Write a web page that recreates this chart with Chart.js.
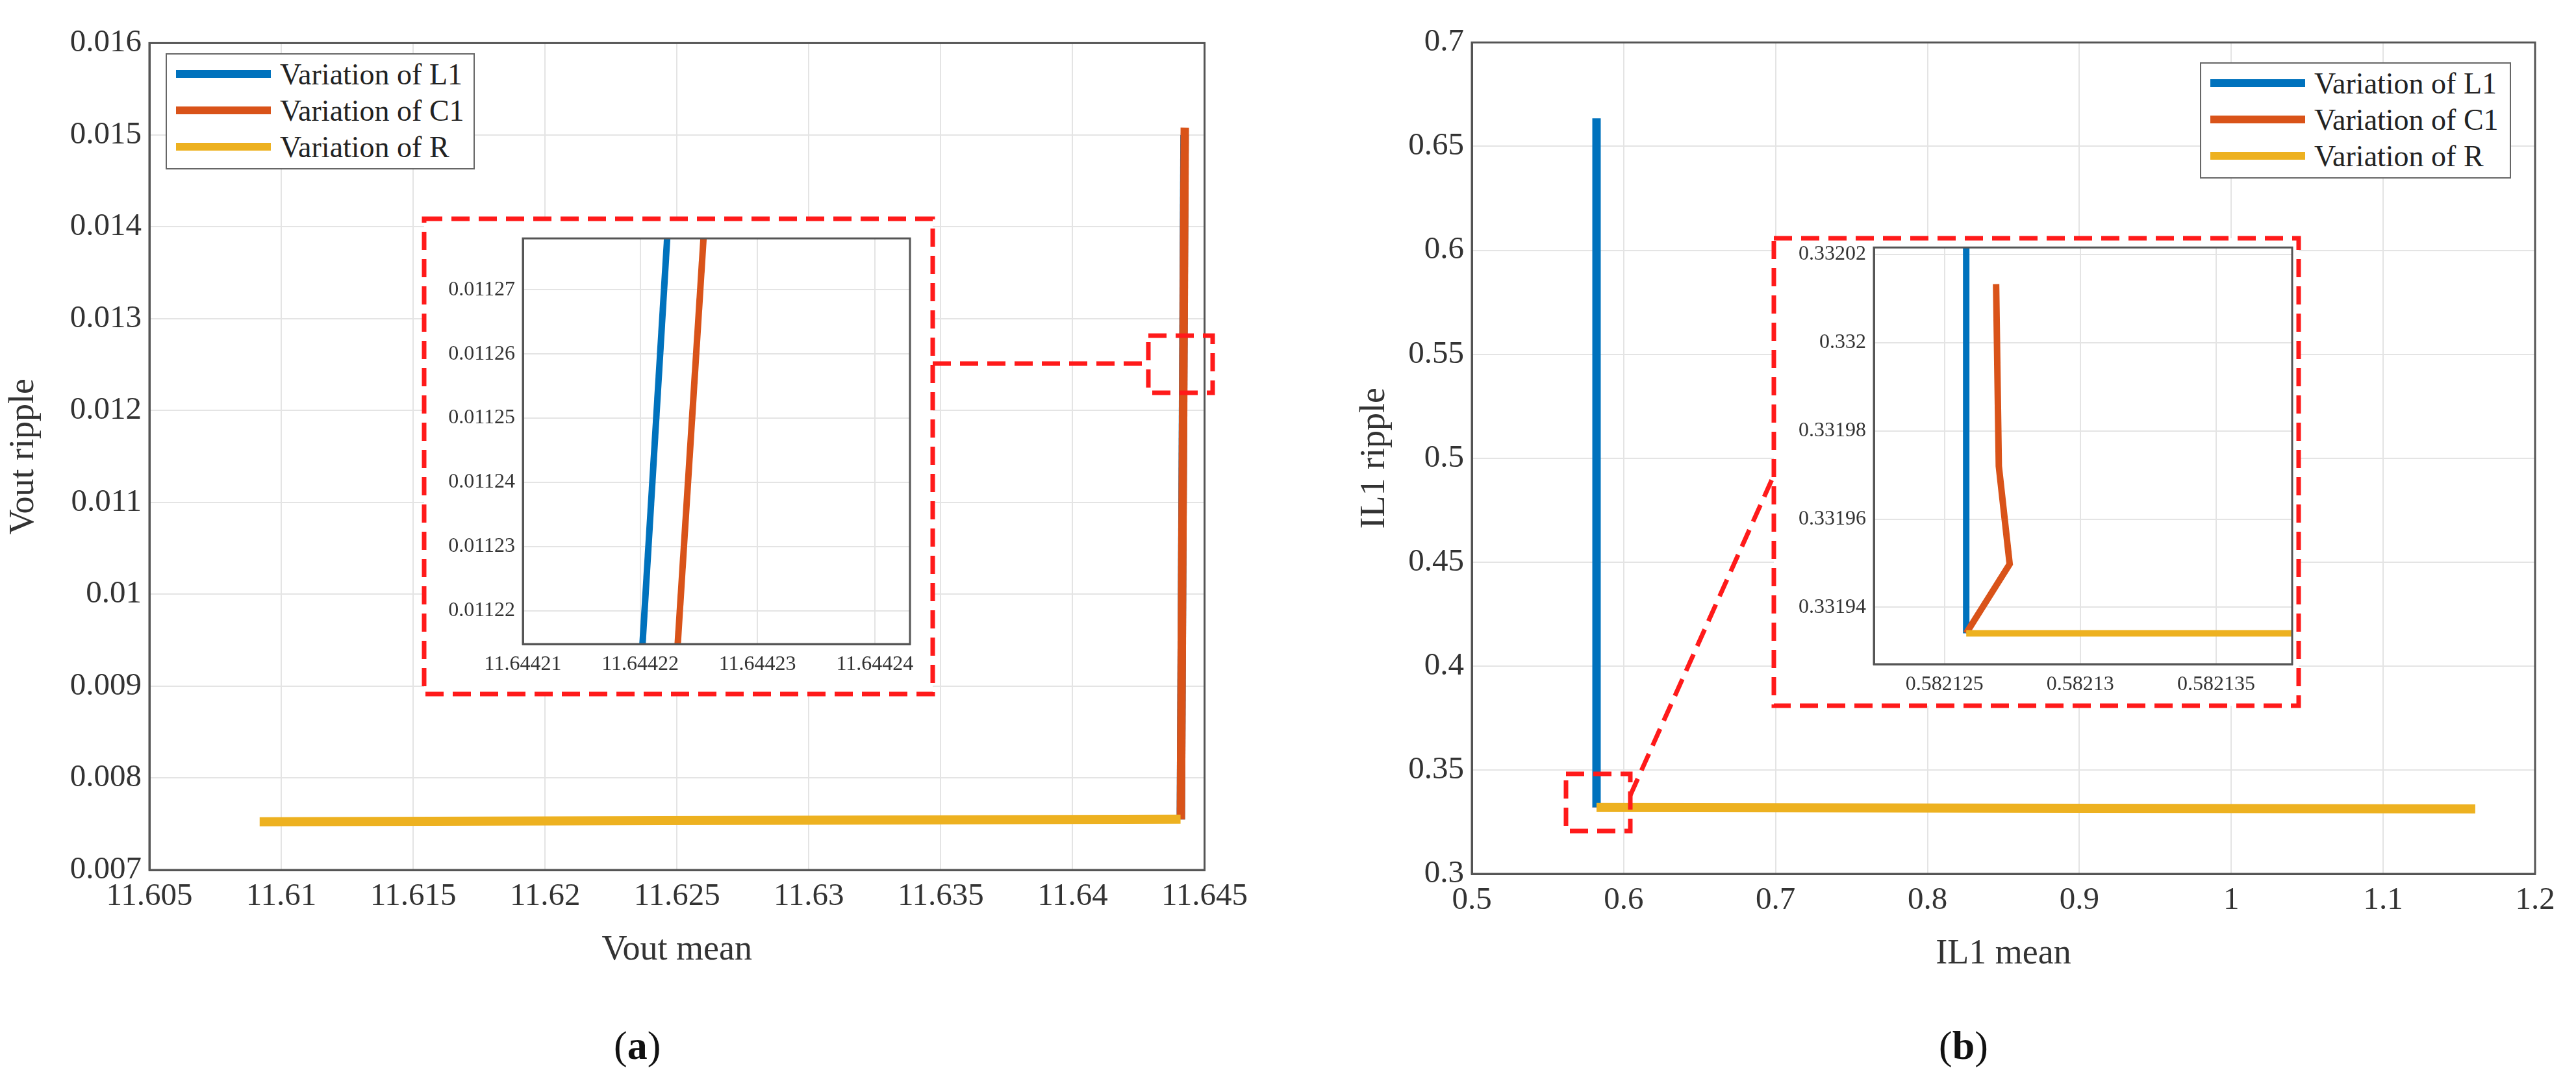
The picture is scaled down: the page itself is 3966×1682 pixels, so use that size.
<!DOCTYPE html>
<html>
<head>
<meta charset="utf-8">
<script src="https://cdn.jsdelivr.net/npm/chart.js@4"></script>
<style>
  body { margin: 0; background: #fff; width: 3966px; height: 1682px; position: relative; overflow: hidden; font-family: "Liberation Serif", serif; }
  .abs { position: absolute; }
  .legend { position: absolute; background: #fff; border: 2px solid #666; font-size: 46px; color: #222; }
  .legend div { height: 56px; display: flex; align-items: center; }
  .legend span.l { display: inline-block; width: 146px; height: 12px; margin: 0 14px 0 14px; }
  .cap { position: absolute; font-size: 62px; color: #111; }
</style>
</head>
<body>
<canvas id="mainA" class="abs" style="left:0;top:25px;width:1933px;height:1475px"></canvas>
<canvas id="mainB" class="abs" style="left:2080px;top:24px;width:1883px;height:1482px"></canvas>

<svg class="abs" style="left:0;top:0" width="3966" height="1682">
  <g fill="none" stroke="#ff1a1a" stroke-width="7" stroke-dasharray="28 14">
    <rect x="653" y="337" width="783" height="732" fill="#fff"/>
    <rect x="1768" y="517" width="99" height="88"/>
    <polyline points="1436,560 1768,560"/>
    <rect x="2731" y="367" width="808" height="720" fill="#fff"/>
    <rect x="2411" y="1192" width="99" height="88"/>
    <polyline points="2510,1225 2731,732"/>
  </g>
</svg>

<canvas id="insetA" class="abs" style="left:660px;top:336px;width:791px;height:716px"></canvas>
<canvas id="insetB" class="abs" style="left:2740px;top:350px;width:839px;height:733px"></canvas>

<div class="legend" style="left:255px;top:82px;width:472px;height:173px;padding-top:2px">
  <div><span class="l" style="background:#0072BD"></span>Variation of L1</div>
  <div><span class="l" style="background:#D95319"></span>Variation of C1</div>
  <div><span class="l" style="background:#EDB120"></span>Variation of R</div>
</div>
<div class="legend" style="left:3387px;top:96px;width:475px;height:173px;padding-top:2px">
  <div><span class="l" style="background:#0072BD"></span>Variation of L1</div>
  <div><span class="l" style="background:#D95319"></span>Variation of C1</div>
  <div><span class="l" style="background:#EDB120"></span>Variation of R</div>
</div>
<div class="cap" style="left:945px;top:1575px">(<b>a</b>)</div>
<div class="cap" style="left:2985px;top:1575px">(<b>b</b>)</div>

<script>
const blue = '#0072BD', orange = '#D95319', yellow = '#EDB120';

// (a) Vout: mean vs ripple
const aL1 = [[11.6441, 0.00755], [11.64424, 0.0150]];
const aC1 = [[11.6441, 0.00755], [11.64425, 0.01508]];
const aR = [[11.60918, 0.007525], [11.64409, 0.007553]];
const aXTicks = [11.605, 11.61, 11.615, 11.62, 11.625, 11.63, 11.635, 11.64, 11.645];
const aYTicks = [0.007, 0.008, 0.009, 0.01, 0.011, 0.012, 0.013, 0.014, 0.015, 0.016];

// (a) inset
const aiL1 = [[11.6442202, 0.0112148], [11.6442223, 0.011278]];
const aiC1 = [[11.6442232, 0.0112148], [11.6442254, 0.011278]];
const aiXTicks = [11.64421, 11.64422, 11.64423, 11.64424];
const aiYTicks = [0.01122, 0.01123, 0.01124, 0.01125, 0.01126, 0.01127];
const aiXRange = [11.64421, 11.644243];
const aiYRange = [0.0112148, 0.011278];

// (b) IL1: mean vs ripple
const bL1 = [[0.5821, 0.3319], [0.5821, 0.6635]];
const bC1 = [[0.5821, 0.3319], [0.5821, 0.33201]];
const bR = [[0.5821, 0.3319], [1.1606, 0.3312]];
const bXTicks = [0.5, 0.6, 0.7, 0.8, 0.9, 1, 1.1, 1.2];
const bYTicks = [0.3, 0.35, 0.4, 0.45, 0.5, 0.55, 0.6, 0.65, 0.7];

// (b) inset
const biL1 = [[0.5821258, 0.3319341], [0.5821258, 0.3320216]];
const biC1 = [[0.5821258, 0.3319341], [0.5821274, 0.3319498], [0.582127, 0.331972], [0.5821269, 0.3320133]];
const biR = [[0.5821258, 0.3319341], [0.5821378, 0.3319341]];
const biXTicks = [0.582125, 0.58213, 0.582135];
const biYTicks = [0.33194, 0.33196, 0.33198, 0.332, 0.33202];
const biXRange = [0.5821224, 0.5821378];
const biYRange = [0.3319271, 0.3320216];

const boxPlugin = {
  id: 'box',
  afterDraw(chart) {
    const a = chart.chartArea, c = chart.ctx;
    c.save();
    c.strokeStyle = '#555';
    c.lineWidth = 3;
    c.strokeRect(a.left, a.top, a.right - a.left, a.bottom - a.top);
    c.restore();
  }
};

function pts(arr) { return arr.map(p => ({ x: p[0], y: p[1] })); }

// order: lower is drawn on top (R over C1 over L1, as in MATLAB plot order)
function ds(data, color, w, order) {
  return { data: pts(data), borderColor: color, backgroundColor: color, borderWidth: w, order: order,
           showLine: true, pointRadius: 0, tension: 0, clip: 0 };
}

function axis(ticks, range, font, title, fit, horizontal) {
  return {
    type: 'linear',
    min: range ? range[0] : ticks[0],
    max: range ? range[1] : ticks[ticks.length - 1],
    afterBuildTicks: s => { s.ticks = ticks.map(v => ({ value: v })); },
    afterFit: s => { if (horizontal) s.height = fit; else s.width = fit; },
    grid: { color: '#e4e4e4', lineWidth: 2, drawTicks: false },
    border: { color: '#555', width: 3 },
    ticks: { font: { family: 'Liberation Serif', size: font }, color: '#333', padding: 12,
             autoSkip: false, maxRotation: 0, callback: v => String(+v.toPrecision(8)) },
    title: { display: !!title, text: title, font: { family: 'Liberation Serif', size: 54 }, color: '#333', padding: 4 }
  };
}

function make(id, sets, xT, yT, xR, yR, font, xTitle, yTitle, yW, xH, pad) {
  new Chart(document.getElementById(id), {
    type: 'scatter',
    data: { datasets: sets },
    options: {
      responsive: false, animation: false, devicePixelRatio: 1,
      layout: { padding: pad },
      plugins: { legend: { display: false }, tooltip: { enabled: false } },
      scales: {
        x: axis(xT, xR, font, xTitle, xH, true),
        y: axis(yT, yR, font, yTitle, yW, false)
      }
    },
    plugins: [boxPlugin]
  });
}

function sizeCanvas(id) {
  const c = document.getElementById(id);
  c.width = parseInt(c.style.width); c.height = parseInt(c.style.height);
}
['mainA', 'mainB', 'insetA', 'insetB'].forEach(sizeCanvas);

make('mainA', [ds(aL1, blue, 13, 3), ds(aC1, orange, 13, 2), ds(aR, yellow, 14, 1)],
     aXTicks, aYTicks, null, null, 49, 'Vout mean', 'Vout ripple', 230, 160,
     { top: 30, right: 60, left: 0, bottom: 0 });
make('mainB', [ds(bL1, blue, 13, 3), ds(bC1, orange, 13, 2), ds(bR, yellow, 14, 1)],
     bXTicks, bYTicks, null, null, 49, 'IL1 mean', 'IL1 ripple', 186, 160,
     { top: 30, right: 60, left: 0, bottom: 0 });
make('insetA', [ds(aiL1, blue, 10, 3), ds(aiC1, orange, 10, 2)],
     aiXTicks, aiYTicks, aiXRange, aiYRange, 32, '', '', 145, 60,
     { top: 20, right: 50, left: 0, bottom: 0 });
make('insetB', [ds(biL1, blue, 10, 3), ds(biC1, orange, 10, 2), ds(biR, yellow, 10, 1)],
     biXTicks, biYTicks, biXRange, biYRange, 32, '', '', 145, 60,
     { top: 30, right: 50, left: 0, bottom: 0 });
</script>
</body>
</html>
